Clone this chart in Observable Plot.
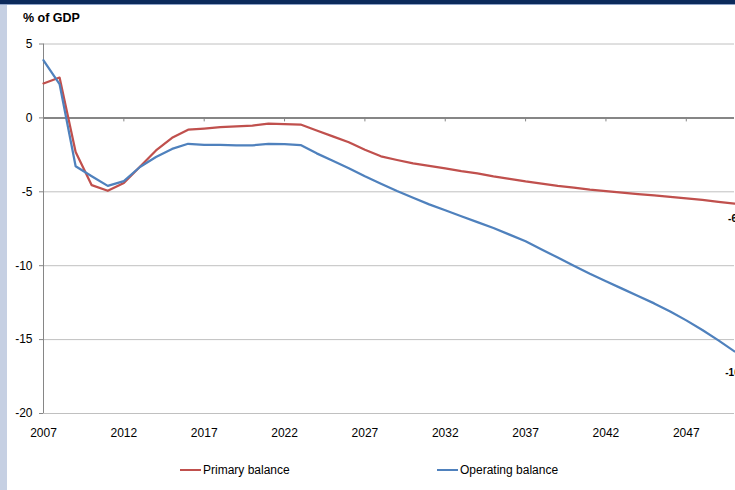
<!DOCTYPE html>
<html>
<head>
<meta charset="utf-8">
<script src="https://cdn.jsdelivr.net/npm/d3@7"></script>
<script src="https://cdn.jsdelivr.net/npm/@observablehq/plot@0.6"></script>
<style>
  html, body { margin: 0; padding: 0; background: #fff; overflow: hidden; }
  #page { position: relative; width: 735px; height: 490px; overflow: hidden; background: #fff;
          font-family: "Liberation Sans", Arial, sans-serif; }
  #topbar { position: absolute; left: 0; top: 0; width: 735px; height: 4px; background: #0c2a5b; }
  #topline { position: absolute; left: 0; top: 4px; width: 735px; height: 1px; background: #8ea3c8; }
  #leftstrip { position: absolute; left: 0; top: 5px; width: 7px; height: 485px; background: #c6d0e3; }
  #title { position: absolute; left: 23px; top: 11px; font-size: 12.5px; font-weight: bold; color: #000; }
  #chart { position: absolute; left: 0; top: 0; width: 760px; height: 445px; }
  #chart svg { max-width: none !important; display: block; }
  #legend { position: absolute; left: 0; top: 462px; width: 735px; height: 16px; font-size: 12px; color: #000; }
  .item { position: absolute; top: 0; display: flex; align-items: center; height: 16px; }
  .swatch { display: inline-block; width: 21px; height: 2.5px; margin-right: 2px; }
</style>
</head>
<body>
<div id="page">
  <div id="topbar"></div>
  <div id="topline"></div>
  <div id="leftstrip"></div>
  <div id="chart"></div>
  <div id="title">% of GDP</div>
  <div id="legend"></div>
</div>
<script>
const years = d3.range(2007, 2051);
const seriesNames = ["Primary balance", "Operating balance"];
const seriesColors = ["#c0504d", "#4f81bd"];
const primaryBalance = [
  2.33, 2.73, -2.3, -4.55, -4.93, -4.4, -3.3, -2.2, -1.35, -0.8,
  -0.72, -0.62, -0.57, -0.52, -0.38, -0.42, -0.45, -0.85, -1.25, -1.65,
  -2.15, -2.6, -2.85, -3.08, -3.25, -3.42, -3.6, -3.75, -3.95, -4.12,
  -4.3, -4.45, -4.6, -4.72, -4.85, -4.95, -5.05, -5.15, -5.25, -5.35,
  -5.45, -5.55, -5.68, -5.8
];
const operatingBalance = [
  3.9, 2.29, -3.27, -3.95, -4.6, -4.28, -3.32, -2.65, -2.1, -1.75,
  -1.82, -1.82, -1.86, -1.86, -1.75, -1.78, -1.84, -2.4, -2.9, -3.4,
  -3.95, -4.45, -4.95, -5.4, -5.85, -6.25, -6.65, -7.05, -7.45, -7.9,
  -8.35, -8.9, -9.45, -10.0, -10.55, -11.05, -11.55, -12.05, -12.55, -13.1,
  -13.7, -14.35, -15.05, -15.8
];
const xTicks = [2007, 2012, 2017, 2022, 2027, 2032, 2037, 2042, 2047];
const yTicks = [5, 0, -5, -10, -15, -20];

const data = [];
years.forEach((y, i) => {
  data.push({year: y, value: primaryBalance[i], series: seriesNames[0]});
  data.push({year: y, value: operatingBalance[i], series: seriesNames[1]});
});
const lastPrimary = [{year: years[years.length - 1], value: primaryBalance[primaryBalance.length - 1]}];
const lastOperating = [{year: years[years.length - 1], value: operatingBalance[operatingBalance.length - 1]}];

const grey = "#868686";
const chart = Plot.plot({
  width: 760,
  height: 445,
  marginLeft: 43,
  marginRight: 26,
  marginTop: 43.5,
  marginBottom: 32,
  style: {fontFamily: "'Liberation Sans', Arial, sans-serif", fontSize: "12px", color: "#000", background: "transparent", overflow: "visible", maxWidth: "none"},
  x: {domain: [2007, 2050]},
  y: {domain: [-20, 5]},
  color: {domain: seriesNames, range: seriesColors},
  marks: [
    Plot.gridY(yTicks.filter(d => d !== 0), {stroke: "#c0c0c0", strokeOpacity: 1, strokeWidth: 1}),
    Plot.ruleX([2007], {stroke: grey, strokeWidth: 1}),
    Plot.ruleY([0], {stroke: grey, strokeWidth: 2}),
    Plot.ruleX(xTicks, {x: d => d, y1: 0, y2: 0, insetBottom: -4, stroke: grey, strokeWidth: 1}),
    Plot.axisY(yTicks, {anchor: "left", tickSize: 4, tickPadding: 7, stroke: grey, label: null, fill: "#000", tickFormat: d => String(d).replace("\u2212", "-")}),
    Plot.axisX(xTicks, {anchor: "bottom", tickSize: 0, tickPadding: 15, label: null, fill: "#000", tickFormat: d => String(d)}),
    Plot.line(data, {x: "year", y: "value", z: "series", stroke: "series", strokeWidth: 2.25, curve: "linear"}),
    Plot.text(lastPrimary, {x: "year", y: "value", text: d => String(Math.round(d.value)), dy: 15, dx: -2, fontWeight: "bold", fontSize: 10, fill: "#000"}),
    Plot.text(lastOperating, {x: "year", y: "value", text: d => String(Math.round(d.value)), dy: 21, dx: -2, fontWeight: "bold", fontSize: 10, fill: "#000"})
  ]
});
document.getElementById("chart").appendChild(chart);

const legend = document.getElementById("legend");
const legendLefts = [180, 437];
seriesNames.forEach((name, i) => {
  const item = document.createElement("div");
  item.className = "item";
  item.style.left = legendLefts[i] + "px";
  const sw = document.createElement("span");
  sw.className = "swatch";
  sw.style.background = seriesColors[i];
  const label = document.createElement("span");
  label.textContent = name;
  item.appendChild(sw);
  item.appendChild(label);
  legend.appendChild(item);
});
</script>
</body>
</html>
